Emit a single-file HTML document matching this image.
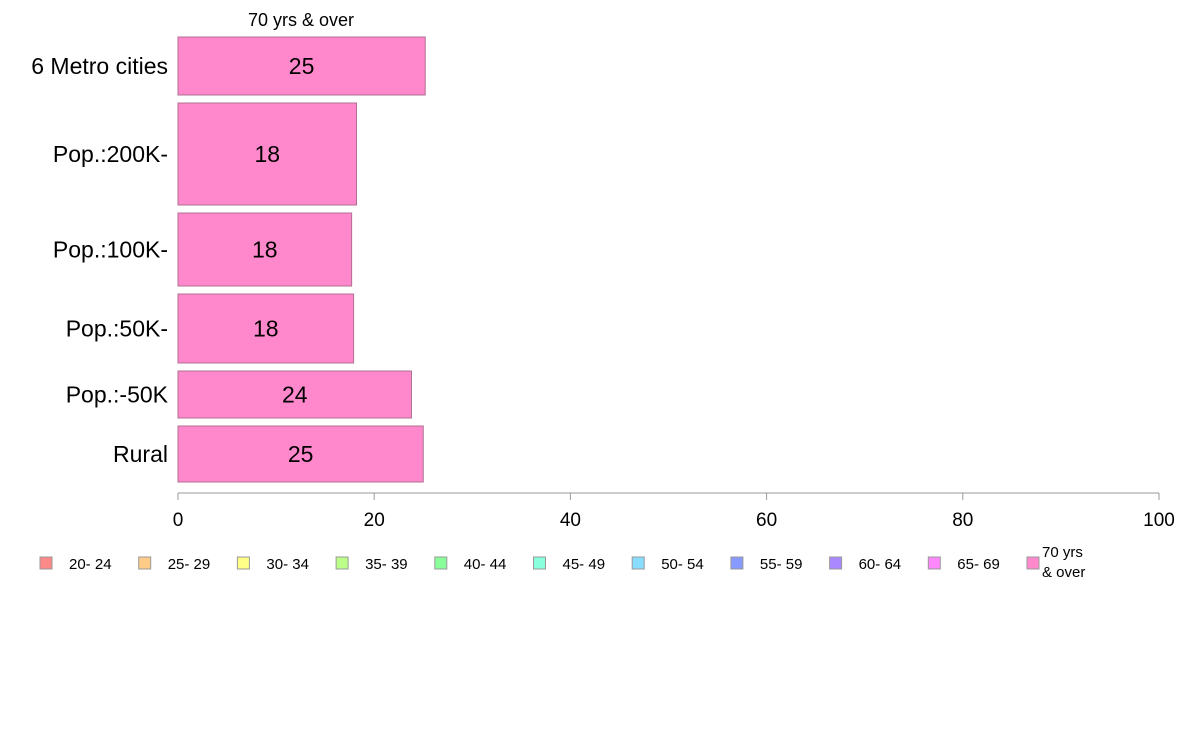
<!DOCTYPE html>
<html><head><meta charset="utf-8"><style>
body{margin:0;background:#fff;font-family:"Liberation Sans",sans-serif}
</style></head><body>
<svg width="1188" height="736" xmlns="http://www.w3.org/2000/svg" font-family="Liberation Sans, sans-serif">
<g id="bars"></g><g id="axis"></g><g id="legend"></g>
<text x="301" y="26" text-anchor="middle" font-size="18">70 yrs &amp; over</text>
</svg>
<script>
const categories=["6 Metro cities","Pop.:200K-","Pop.:100K-","Pop.:50K-","Pop.:-50K","Rural"];
const values=[25.2,18.2,17.7,17.9,23.8,25.0];
const labels=["25","18","18","18","24","25"];
const weights=[58,102,73,69,47,56];
const ticks=[0,20,40,60,80,100];
const legendLabels=["20- 24","25- 29","30- 34","35- 39","40- 44","45- 49","50- 54","55- 59","60- 64","65- 69","70 yrs|& over"];
const legendColors=["#ff8888","#ffcc88","#ffff88","#bbff88","#88ff99","#88ffdd","#88ddff","#8899ff","#aa88ff","#ff88ff","#ff88cc"];
const NS="http://www.w3.org/2000/svg";
const xs=v=>178+v*9.81;
function mk(t,a,p){const e=document.createElementNS(NS,t);for(const k in a)e.setAttribute(k,a[k]);p.appendChild(e);return e;}
const barsG=document.getElementById('bars');
const total=weights.reduce((a,b)=>a+b,0), gap=8, plotTop=37, plotBottom=482;
const hScale=(plotBottom-plotTop-gap*(weights.length-1))/total;
let cy=plotTop;
categories.forEach((c,i)=>{
  const h=weights[i]*hScale;
  const r=mk('rect',{x:xs(0),y:cy,width:xs(values[i])-xs(0),height:h,fill:'#ff88cc',stroke:'#b07090','stroke-width':1},barsG);
  
  
  const t=mk('text',{x:(xs(0)+xs(values[i]))/2,y:cy+h/2+8,'text-anchor':'middle','font-size':23},barsG);t.textContent=labels[i];
  
  
  const l=mk('text',{x:168,y:cy+h/2+8,'text-anchor':'end','font-size':23},barsG);l.textContent=c;
  
  
  cy+=h+gap;
});
const ax=document.getElementById('axis');
const al=mk('line',{x1:xs(0),x2:xs(100),y1:493,y2:493,stroke:'#999'},ax);


ticks.forEach(v=>{
  mk('line',{x1:xs(v),x2:xs(v),y1:493,y2:500,stroke:'#999'},ax);
  const t=mk('text',{x:xs(v),y:526,'text-anchor':'middle','font-size':19},ax);t.textContent=v;
  
  
});
const lg=document.getElementById('legend');
legendLabels.forEach((s,i)=>{
  const lx=40+i*98.7;
  const g=mk('g',{},lg);
  
  
  mk('rect',{x:lx,y:557,width:12,height:12,fill:legendColors[i],stroke:'#999'},g);
  const parts=s.split('|');
  parts.forEach((p,j)=>{
    const t=mk('text',{x:lx+(parts.length>1?15:29),y:parts.length>1?557+j*20:569,'font-size':15},g);t.textContent=p;
  });
});
</script>
</body></html>
